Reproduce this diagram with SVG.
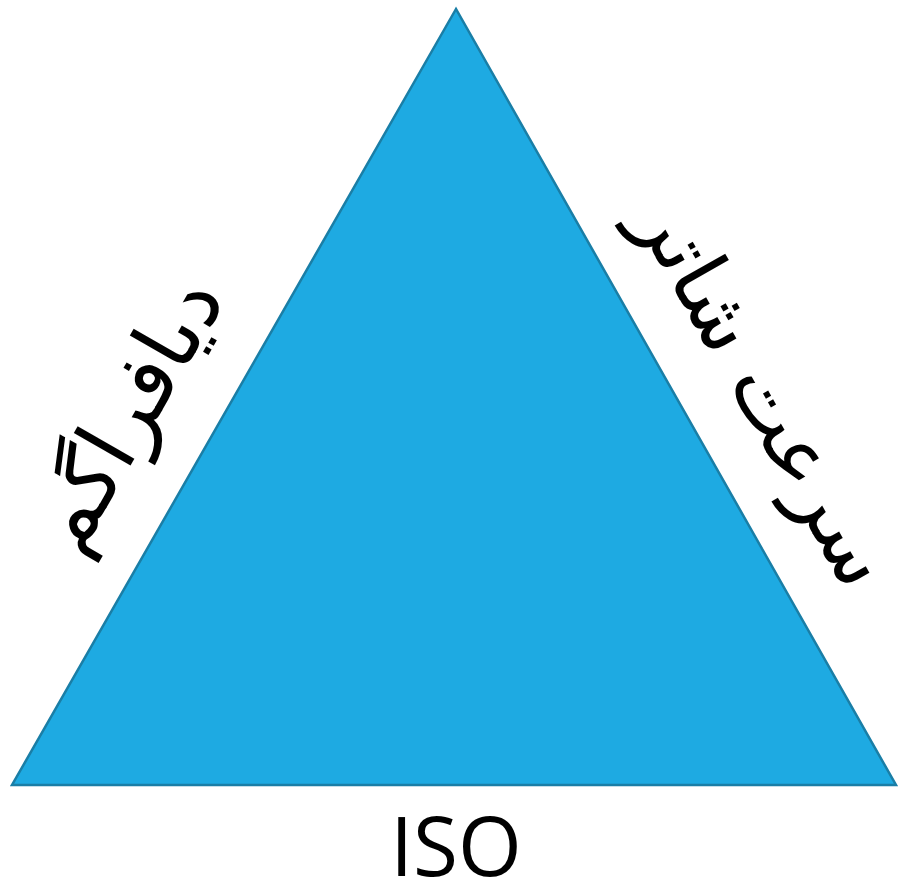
<svg xmlns="http://www.w3.org/2000/svg" width="898" height="889" viewBox="0 0 898 889">
<style>
.fa{font-family:"DejaVu Sans",sans-serif;fill:#000;text-anchor:middle;dominant-baseline:central}
.lb{font-family:"Open Sans","Liberation Sans",sans-serif;font-size:82px;fill:#000;text-anchor:middle}
</style>
<rect width="898" height="889" fill="#fff"/>
<g id="triangle">
<polygon points="456,9 12,785 896,785" fill="#1EAAE2" stroke="#1A7EA6" stroke-width="2.5" stroke-linejoin="miter"/>
</g>
<g id="label-aperture">
<text class="fa" font-size="86" direction="rtl" transform="translate(126,413) rotate(-60.2)">دیافراگم</text>
</g>
<g id="label-shutter">
<text class="fa" font-size="82" direction="rtl" transform="translate(765,392) rotate(60.4)">سرعت شاتر</text>
</g>
<g id="label-iso">
<text class="lb" x="456" y="876">ISO</text>
</g>
</svg>
